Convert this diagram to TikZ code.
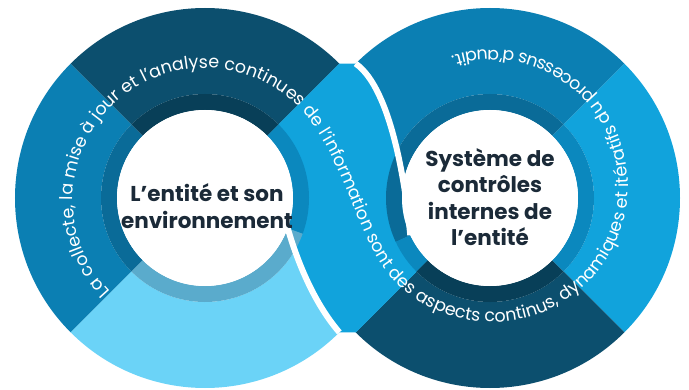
\documentclass[tikz,border=0pt]{standalone}
\usepackage{fontspec}
\setmainfont{Poppins}
\usetikzlibrary{decorations.text,calc}
\definecolor{cdark}{HTML}{0C4F6E}
\definecolor{cdarkin}{HTML}{083F58}
\definecolor{cmed}{HTML}{0B7FB3}
\definecolor{cmedin}{HTML}{0A6B98}
\definecolor{cbri}{HTML}{11A3DC}
\definecolor{cbriin}{HTML}{0B88BE}
\definecolor{clight}{HTML}{6BD3F7}
\definecolor{clightin}{HTML}{5AABCC}
\definecolor{cnavy}{HTML}{1B2A38}
\newcommand\annseg[6]{%
  \fill[#6] ($(#1)+(#2:#5)$) arc[start angle=#2, end angle=#3, radius=#5]
     -- ($(#1)+(#3:#4)$) arc[start angle=#3, end angle=#2, radius=#4] -- cycle;}
\newcommand\ringfont{\color{white}\fontsize{17.5}{17.5}\selectfont}
\tikzset{
  centertext/.style={align=center, text=cnavy, font=\fontsize{21.5}{26.5}\selectfont\bfseries},
  tail/.style={draw=white, line width=6pt}
}
\begin{document}
\begin{tikzpicture}[x=1pt,y=1pt]
\useasboundingbox (0,0) rectangle (689,389);
\coordinate (L) at (205,191);
\coordinate (R) at (490,191);
\coordinate (LT) at (205,189);
\coordinate (RT) at (492,203);
% right ring, outer parts
\annseg{R}{45}{210}{104pt}{190pt}{cmed}
\annseg{R}{-45}{45}{104pt}{190pt}{cbri}
\annseg{R}{225}{315}{104pt}{190pt}{cdark}
\annseg{R}{210}{225}{104pt}{190pt}{cbri}
% left ring, outer parts
\annseg{L}{135}{225}{104pt}{190pt}{cmed}
\annseg{L}{45}{135}{104pt}{190pt}{cdark}
\annseg{L}{225}{345}{104pt}{190pt}{clight}
\annseg{L}{-15}{45}{104pt}{190pt}{cbri}
% crossing band
\fill[cbri] (339.4,325.4) -- (355.6,325.4)
   .. controls (392,300) and (406,200) .. ($(R)+(205:88pt)$)
   arc[start angle=205, end angle=225, radius=88pt]
   -- ($(R)+(225:190pt)$) -- ($(L)+(315:190pt)$)
   .. controls (315,85) and (298,125) .. ($(L)+(-20:88pt)$)
   arc[start angle=-20, end angle=45, radius=88pt] -- cycle;
% inner bands
\annseg{L}{135}{225}{88pt}{104pt}{cmedin}
\annseg{L}{45}{135}{88pt}{104pt}{cdarkin}
\annseg{L}{225}{340}{88pt}{104pt}{clightin}
\annseg{L}{-20}{45}{88pt}{104pt}{cbriin}
\annseg{R}{45}{205}{88pt}{104pt}{cmedin}
\annseg{R}{205}{225}{88pt}{104pt}{cbriin}
\annseg{R}{225}{315}{88pt}{104pt}{cdarkin}
\annseg{R}{-45}{45}{88pt}{104pt}{cbriin}
% white centres
\fill[white] (L) circle[radius=88pt];
\fill[white] (R) circle[radius=88pt];
% white tails
\draw[tail] (355.6,325.4) .. controls (392,300) and (406,200) .. ($(R)+(205:88pt)$);
\draw[tail] ($(L)+(315:190pt)$) .. controls (315,85) and (298,125) .. ($(L)+(-20:88pt)$);
% text along the loop
\path[decorate, decoration={text along path, text align=left,
  text={|\ringfont|La collecte, la mise à jour et l’analyse continues de l’information sont des aspects continus, dynamiques et itératifs du processus d’audit.}}]
  ($(LT)+(224:132pt)$) arc[start angle=224, end angle=42, radius=132pt]
  .. controls (343.2,232.7) and (358.9,150.1) .. ($(RT)+(220:136pt)$)
  arc[start angle=220, end angle=500, radius=136pt];
% centre texts
\node[centertext] (tl) at (207,183) {L’entité et son\\environnement};
\node[centertext] (tr) at (490,192) {Système de\\contrôles\\internes de\\l’entité};
\end{tikzpicture}
\end{document}
